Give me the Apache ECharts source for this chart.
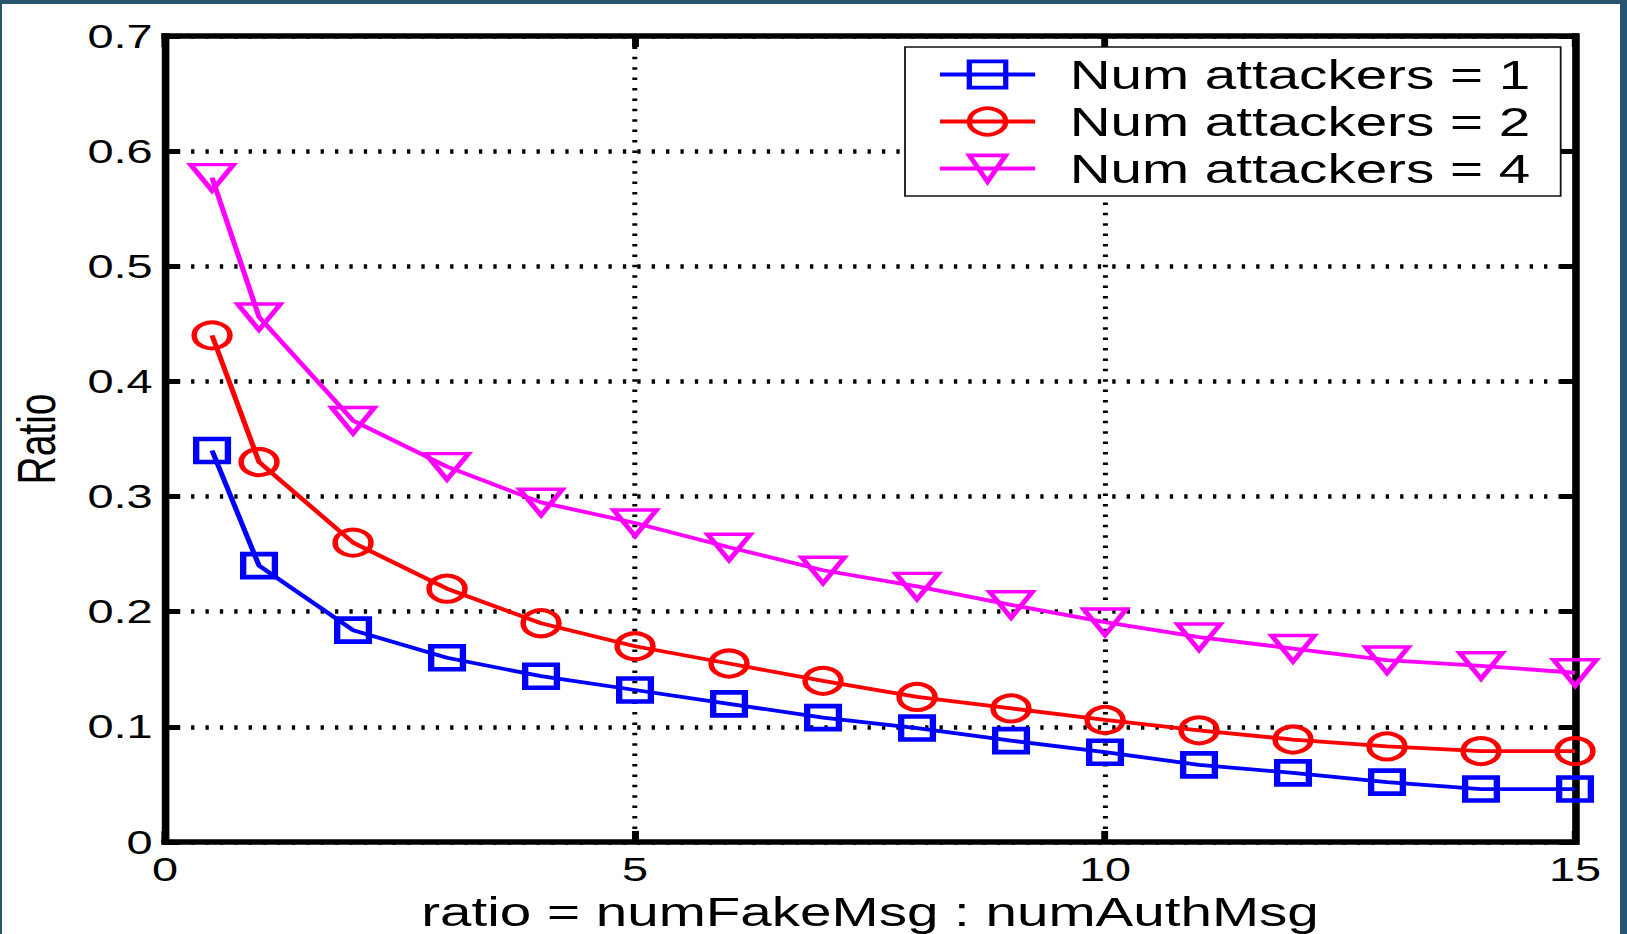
<!DOCTYPE html>
<html>
<head>
<meta charset="utf-8">
<script src="https://cdn.jsdelivr.net/npm/echarts@6/dist/echarts.min.js"></script>
<style>
  html, body { margin: 0; padding: 0; width: 1627px; height: 934px; overflow: hidden; background: #28546e; }
  #sheet { position: absolute; left: 2px; top: 4px; width: 1618px; height: 930px; background: #ffffff; }
  /* The figure is drawn at its native aspect and widened horizontally, like a stretched slide image */
  #chart { position: absolute; left: 0; top: 0; width: 1179px; height: 934px; transform: scaleX(1.38); transform-origin: 0 0; }
</style>
</head>
<body>
<div id="sheet"></div>
<div id="chart"></div>
<script>
// ratio = numFakeMsg : numAuthMsg
const ratioX = [0.5, 1, 2, 3, 4, 5, 6, 7, 8, 9, 10, 11, 12, 13, 14, 15];

// fraction of fake messages per attacker count
const attackers1 = [0.340, 0.240, 0.184, 0.160, 0.144, 0.132, 0.120, 0.108, 0.099, 0.088, 0.078, 0.067, 0.060, 0.052, 0.046, 0.046];
const attackers2 = [0.440, 0.330, 0.260, 0.220, 0.190, 0.170, 0.155, 0.140, 0.126, 0.116, 0.106, 0.097, 0.089, 0.083, 0.079, 0.079];
const attackers4 = [0.577, 0.456, 0.366, 0.326, 0.295, 0.277, 0.256, 0.236, 0.222, 0.206, 0.191, 0.178, 0.168, 0.158, 0.153, 0.147];

const seriesNames = ['Num attackers = 1', 'Num attackers = 2', 'Num attackers = 4'];
const xTickLabels = ['0', '5', '10', '15'];
const yTickLabels = ['0', '0.1', '0.2', '0.3', '0.4', '0.5', '0.6', '0.7'];
const xTitle = 'ratio = numFakeMsg : numAuthMsg';
const yTitle = 'Ratio';

const FONT = '"Liberation Sans", Arial, Helvetica, sans-serif';

function toPairs(ys) {
  return ratioX.map((x, i) => [x, ys[i]]);
}

const frameLine = { show: true, onZero: false, lineStyle: { color: '#000', width: 5.5, cap: 'square' } };
const innerTick = { show: true, inside: true, length: 11, lineStyle: { color: '#000', width: 5 } };

function lineSeries(name, ys, color, symbol, size, border, rotate) {
  return {
    name: name,
    type: 'line',
    data: toPairs(ys),
    symbol: symbol,
    symbolSize: size,
    symbolRotate: rotate || 0,
    showSymbol: true,
    clip: false,
    lineStyle: { color: color, width: 3.8 },
    itemStyle: { color: 'rgba(255,255,255,0)', borderColor: color, borderWidth: border },
    emphasis: { disabled: true }
  };
}

const chart = echarts.init(document.getElementById('chart'), null, { renderer: 'svg' });

chart.setOption({
  animation: false,
  backgroundColor: 'transparent',
  grid: { left: 119.6, right: 37.7, top: 36, bottom: 92, containLabel: false, outerBoundsMode: 'none' },
  legend: {
    data: seriesNames,
    orient: 'vertical',
    left: 655.8,
    top: 47,
    itemWidth: 69,
    itemHeight: 33,
    itemGap: 4,
    padding: [6, 22, 6, 23.2],
    backgroundColor: '#ffffff',
    borderColor: '#111',
    borderWidth: 1.3,
    borderRadius: 0,
    selectedMode: false,
    lineStyle: { width: 4.2 },
    itemStyle: { borderWidth: 3.8 },
    textStyle: { fontFamily: FONT, fontSize: 41, lineHeight: 43, color: '#000', padding: [0, 0, 0, 20] }
  },
  xAxis: [
    {
      type: 'value', min: 0, max: 15, interval: 5, position: 'bottom',
      name: xTitle, nameLocation: 'middle', nameGap: 47,
      nameTextStyle: { fontFamily: FONT, fontSize: 41, color: '#000' },
      axisLine: frameLine,
      axisTick: innerTick,
      axisLabel: { margin: 10, fontFamily: FONT, fontSize: 34, color: '#000',
                   formatter: v => xTickLabels[Math.round(v / 5)] },
      splitLine: { show: true, lineStyle: { color: '#000', width: 3.6, type: [2.5, 7.9] } }
    },
    {
      type: 'value', min: 0, max: 15, interval: 5, position: 'top',
      axisLine: frameLine, axisTick: innerTick,
      axisLabel: { show: false }, splitLine: { show: false }
    }
  ],
  yAxis: [
    {
      type: 'value', min: 0, max: 0.7, interval: 0.1, position: 'left',
      name: yTitle, nameLocation: 'middle', nameGap: 74,
      nameTextStyle: { fontFamily: FONT, fontSize: 39, color: '#000' },
      axisLine: frameLine,
      axisTick: innerTick,
      axisLabel: { margin: 9, fontFamily: FONT, fontSize: 34, color: '#000',
                   formatter: v => yTickLabels[Math.round(v * 10)] },
      splitLine: { show: true, lineStyle: { color: '#000', width: 4.5, type: [2.4, 8.03], dashOffset: 1.56 } }
    },
    {
      type: 'value', min: 0, max: 0.7, interval: 0.1, position: 'right',
      axisLine: frameLine, axisTick: innerTick,
      axisLabel: { show: false }, splitLine: { show: false }
    }
  ],
  series: [
    lineSeries(seriesNames[0], attackers1, '#0000ff', 'rect', 23, 4.6),
    lineSeries(seriesNames[1], attackers2, '#ff0000', 'circle', 26, 4),
    lineSeries(seriesNames[2], attackers4, '#ff00ff', 'triangle', [31, 26], 3.8, 180)
  ]
});
</script>
</body>
</html>
